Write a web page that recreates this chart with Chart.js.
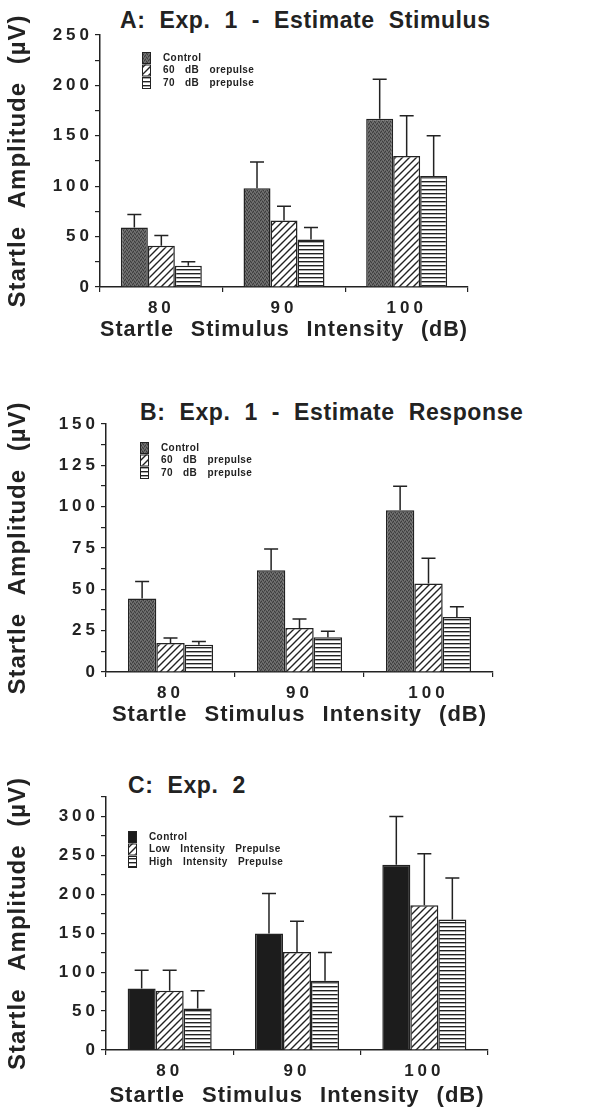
<!DOCTYPE html>
<html>
<head>
<meta charset="utf-8">
<script src="https://cdn.jsdelivr.net/npm/chart.js@4.4.1/dist/chart.umd.min.js"></script>
<style>
  body { margin: 0; background: #fff; width: 590px; height: 1111px; position: relative; overflow: hidden;
         font-family: "Liberation Sans", Arial, sans-serif; }
  canvas { position: absolute; left: 0; }
  .ttl { position: absolute; font-weight: bold; font-size: 23px; color: #222; white-space: pre;
         word-spacing: 7px; letter-spacing: 0.6px; line-height: 1; }
</style>
</head>
<body>
<div class="ttl" style="left:120px; top:9px">A: Exp. 1 - Estimate Stimulus</div>
<div class="ttl" style="left:140px; top:401px">B: Exp. 1 - Estimate Response</div>
<div class="ttl" style="left:128px; top:774px">C: Exp. 2</div>
<canvas id="chartA" width="590" height="345" style="top:0"></canvas>
<canvas id="chartB" width="590" height="360" style="top:370px"></canvas>
<canvas id="chartC" width="590" height="366" style="top:745px"></canvas>
<script>
/* data */
const categories = ['80', '90', '100'];

const labelsA = ['Control', '60 dB orepulse', '70 dB prepulse'];
const aControl = [59, 98, 167];
const aControlSem = [13, 26, 39];
const a60 = [41, 66, 130];
const a60Sem = [10, 14, 40];
const a70 = [21, 47, 110];
const a70Sem = [4, 12, 40];

const labelsB = ['Control', '60 dB prepulse', '70 dB prepulse'];
const bControl = [44.4, 61.5, 97.8];
const bControlSem = [10.4, 12.9, 14.5];
const b60 = [17.5, 26.6, 53.6];
const b60Sem = [3.1, 5.4, 15.2];
const b70 = [16.5, 21, 33.3];
const b70Sem = [2, 3.6, 6.2];

const labelsC = ['Control', 'Low Intensity Prepulse', 'High Intensity Prepulse'];
const cControl = [79, 149.6, 238];
const cControlSem = [23.6, 51.4, 62];
const cLow = [76, 126, 186];
const cLowSem = [26.6, 39.4, 66];
const cHigh = [53.4, 88.9, 167.5];
const cHighSem = [22.6, 36.3, 53.5];

const INK = '#222';
const FONT = '"Liberation Sans", Arial, sans-serif';

/* fill patterns */
function makeCanvas(w, h) {
  const c = document.createElement('canvas');
  c.width = w; c.height = h;
  return c;
}
function stipple(base) {
  const c = makeCanvas(4, 4), g = c.getContext('2d');
  g.fillStyle = base; g.fillRect(0, 0, 4, 4);
  g.fillStyle = 'rgba(0,0,0,0.35)';
  [[0, 0], [2, 1], [1, 3], [3, 2]].forEach(([x, y]) => g.fillRect(x, y, 1, 1));
  g.fillStyle = 'rgba(255,255,255,0.15)';
  [[1, 1], [3, 0], [0, 2], [2, 3]].forEach(([x, y]) => g.fillRect(x, y, 1, 1));
  return g.createPattern(c, 'repeat');
}
function diagonal() {
  const s = 7, c = makeCanvas(s, s), g = c.getContext('2d');
  g.fillStyle = '#fff'; g.fillRect(0, 0, s, s);
  g.strokeStyle = INK; g.lineWidth = 1.4;
  g.beginPath();
  g.moveTo(0, s); g.lineTo(s, 0);
  g.moveTo(-1, 1); g.lineTo(1, -1);
  g.moveTo(s - 1, s + 1); g.lineTo(s + 1, s - 1);
  g.stroke();
  return g.createPattern(c, 'repeat');
}
function horizontal() {
  const c = makeCanvas(4, 4), g = c.getContext('2d');
  g.fillStyle = '#fff'; g.fillRect(0, 0, 4, 4);
  g.fillStyle = INK; g.fillRect(0, 1, 4, 1);
  g.fillStyle = 'rgba(34,34,34,0.4)'; g.fillRect(0, 2, 4, 1);
  return g.createPattern(c, 'repeat');
}

/* error bars, upward only */
const errorBars = {
  id: 'errorBars',
  afterDatasetsDraw(chart) {
    const { ctx, scales: { y } } = chart;
    ctx.save();
    ctx.strokeStyle = INK;
    ctx.lineWidth = 1.5;
    chart.data.datasets.forEach((ds, i) => {
      chart.getDatasetMeta(i).data.forEach((bar, j) => {
        const top = y.getPixelForValue(ds.data[j] + ds.sem[j]);
        ctx.beginPath();
        ctx.moveTo(bar.x, bar.y);
        ctx.lineTo(bar.x, top);
        ctx.moveTo(bar.x - 7, top);
        ctx.lineTo(bar.x + 7, top);
        ctx.stroke();
      });
    });
    ctx.restore();
  }
};

/* stacked swatch legend inside the plot */
const boxLegend = {
  id: 'boxLegend',
  afterDraw(chart, args, opts) {
    const { ctx, chartArea } = chart;
    const x = chartArea.left + opts.x;
    let y = chartArea.top + opts.y;
    ctx.save();
    ctx.font = 'bold 10px ' + FONT;
    ctx.textBaseline = 'middle';
    ctx.letterSpacing = '0.4px';
    ctx.wordSpacing = '7px';
    chart.data.datasets.forEach(ds => {
      ctx.fillStyle = ds.backgroundColor;
      ctx.fillRect(x, y, 9, 11);
      ctx.strokeStyle = INK;
      ctx.lineWidth = 1;
      ctx.strokeRect(x + 0.5, y + 0.5, 8, 11);
      ctx.fillStyle = INK;
      ctx.fillText(ds.label, x + 21, y + 6);
      y += 12.5;
    });
    ctx.restore();
  }
};

/* spaced-out lettering like the typewriter-era original */
const spacing = {
  id: 'spacing',
  beforeDraw(chart) {
    chart.ctx.wordSpacing = '10px';
    chart.ctx.letterSpacing = '1px';
    Object.values(chart.scales).forEach(s => {
      if (s._spaced) return;
      const draw = s.drawLabels;
      s.drawLabels = function (area) {
        this.ctx.save();
        this.ctx.letterSpacing = '4px';
        draw.call(this, area);
        this.ctx.restore();
      };
      s._spaced = true;
    });
  }
};

function makeChart(id, o) {
  const controlFill = o.dark ? '#1c1c1c' : stipple('#5f5f5f');
  new Chart(document.getElementById(id), {
    type: 'bar',
    data: {
      labels: categories,
      datasets: [
        { label: o.labels[0], data: o.series[0], sem: o.sems[0], backgroundColor: controlFill },
        { label: o.labels[1], data: o.series[1], sem: o.sems[1], backgroundColor: diagonal() },
        { label: o.labels[2], data: o.series[2], sem: o.sems[2], backgroundColor: horizontal() }
      ].map(d => Object.assign(d, {
        borderColor: INK, borderWidth: 1.5, categoryPercentage: 0.66, barPercentage: 1
      }))
    },
    options: {
      responsive: false,
      animation: false,
      devicePixelRatio: 1,
      layout: { padding: { top: o.top, right: o.right, left: 0, bottom: 0 } },
      plugins: {
        legend: { display: false },
        tooltip: { enabled: false },
        boxLegend: o.legendAt
      },
      scales: {
        x: {
          grid: { drawOnChartArea: false, tickLength: 5, color: INK, lineWidth: 1.2 },
          border: { color: INK, width: 1.5 },
          ticks: { color: INK, padding: 6, font: { family: FONT, size: 17, weight: 'bold' } },
          title: { display: true, text: 'Startle Stimulus Intensity (dB)', color: INK,
                   padding: { top: 0, bottom: 2 }, font: { family: FONT, size: 22, weight: 'bold' } },
          afterFit: s => { s.height = o.xHeight; }
        },
        y: {
          min: 0, max: o.max,
          grid: { drawOnChartArea: false, tickLength: 5, color: INK, lineWidth: 1.2 },
          border: { color: INK, width: 1.5 },
          ticks: {
            stepSize: o.step, color: INK, padding: 2, autoSkip: false,
            font: { family: FONT, size: 17, weight: 'bold' },
            callback: v => (v % o.labelEvery === 0 ? v : '')
          },
          title: { display: true, text: 'Startle Amplitude (\u00b5V)', color: INK,
                   padding: { top: 4, bottom: 0 }, font: { family: FONT, size: 24, weight: 'bold' } },
          afterFit: s => { s.width = o.yWidth; }
        }
      }
    },
    plugins: [spacing, errorBars, boxLegend]
  });
}

makeChart('chartA', {
  labels: labelsA, series: [aControl, a60, a70], sems: [aControlSem, a60Sem, a70Sem],
  max: 250, step: 25, labelEvery: 50, top: 35, right: 122, yWidth: 100, xHeight: 58,
  legendAt: { x: 42, y: 17 }
});
makeChart('chartB', {
  labels: labelsB, series: [bControl, b60, b70], sems: [bControlSem, b60Sem, b70Sem],
  max: 150, step: 12.5, labelEvery: 25, top: 54, right: 97, yWidth: 106, xHeight: 58,
  legendAt: { x: 34, y: 18 }
});
makeChart('chartC', {
  labels: labelsC, series: [cControl, cLow, cHigh], sems: [cControlSem, cLowSem, cHighSem],
  max: 325, step: 25, labelEvery: 50, top: 52, right: 102, yWidth: 106, xHeight: 61,
  legendAt: { x: 22, y: 34 }, dark: true
});
</script>
</body>
</html>
